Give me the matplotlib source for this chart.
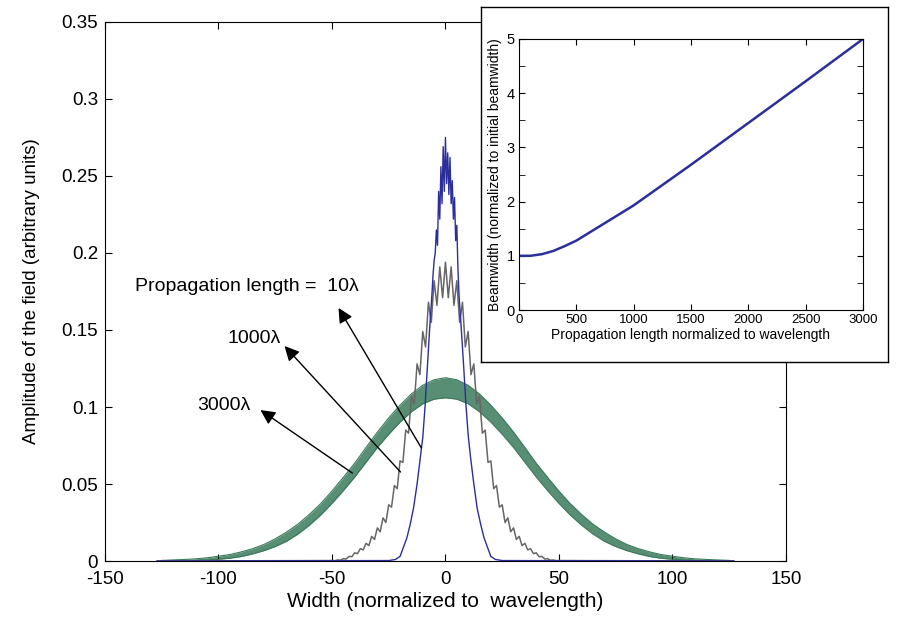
import numpy as np
import matplotlib
matplotlib.use("Agg")
from matplotlib import pyplot as plt

plt.rcParams['font.family'] = ['Liberation Sans', 'DejaVu Sans']
plt.rcParams['axes.unicode_minus'] = False

# --- main panel: field amplitude profiles ---
# 10 lambda (blue), read point by point
blue_x = [-127, -25, -22, -20, -18.5, -17, -15.5, -14, -12.5, -11, -10, -9, -8, -7, -6, -5.5, -5, -4.5, -4,
          -3.5, -3, -2.5, -2, -1.5, -1, -0.5, 0, 0.5, 1, 1.5, 2, 2.5, 3, 3.5, 4, 4.5, 5, 5.5, 6, 7, 8,
          9, 10, 11, 12.5, 14, 15.5, 17, 18.5, 20, 22, 25, 127]
blue_y = [0.0, 0.0003, 0.001, 0.003, 0.009, 0.015, 0.024, 0.035, 0.05, 0.068, 0.08, 0.1, 0.125, 0.15, 0.172,
          0.185, 0.195, 0.2, 0.215, 0.205, 0.24, 0.222, 0.256, 0.232, 0.269, 0.24, 0.275, 0.245, 0.265,
          0.238, 0.262, 0.232, 0.247, 0.222, 0.236, 0.208, 0.218, 0.19, 0.172, 0.15, 0.127, 0.102, 0.082,
          0.068, 0.05, 0.034, 0.024, 0.015, 0.009, 0.003, 0.001, 0.0003, 0.0]

# 1000 lambda (gray): oscillation peaks and troughs
gray_peak_x = np.arange(-50, 50.1, 2.5)
gray_peak_y = [0.0003, 0.0007, 0.0015, 0.003, 0.0053, 0.008, 0.0115, 0.016, 0.0215, 0.028, 0.0365, 0.049,
               0.065, 0.085, 0.107, 0.128, 0.149, 0.168, 0.182, 0.191, 0.194, 0.191, 0.182, 0.168, 0.149,
               0.128, 0.107, 0.085, 0.065, 0.049, 0.0365, 0.028, 0.0215, 0.016, 0.0115, 0.008, 0.0053,
               0.003, 0.0015, 0.0007, 0.0003]
gray_trough_y = [0.0002, 0.0005, 0.0013, 0.0028, 0.0048, 0.0072, 0.010, 0.014, 0.019, 0.025, 0.035, 0.047,
                 0.064, 0.083, 0.102, 0.121, 0.139, 0.155, 0.166, 0.171, 0.171, 0.166, 0.155, 0.139, 0.121,
                 0.102, 0.083, 0.064, 0.047, 0.035, 0.025, 0.019, 0.014, 0.010, 0.0072, 0.0048, 0.0028,
                 0.0013, 0.0005, 0.0002]

# 3000 lambda (green): upper / lower edge of the oscillating band
green_x = np.arange(-125, 125.1, 5)
green_upper = [0.0004, 0.0007, 0.0010, 0.0014, 0.0021, 0.0031, 0.0042, 0.0059, 0.0080, 0.0107, 0.0144, 0.0188,
               0.0239, 0.0302, 0.0372, 0.0454, 0.0543, 0.0635, 0.0737, 0.0837, 0.0929, 0.1012, 0.1085,
               0.1141, 0.1177, 0.1190, 0.1177, 0.1141, 0.1085, 0.1012, 0.0929, 0.0837, 0.0737, 0.0635,
               0.0543, 0.0454, 0.0372, 0.0302, 0.0239, 0.0188, 0.0144, 0.0107, 0.0080, 0.0059, 0.0042,
               0.0031, 0.0021, 0.0014, 0.0010, 0.0007, 0.0004]
green_lower = [0.0000, 0.0001, 0.0002, 0.0004, 0.0007, 0.0011, 0.0018, 0.0029, 0.0046, 0.0067, 0.0094, 0.0128,
               0.0175, 0.0232, 0.0298, 0.0374, 0.0457, 0.0545, 0.0641, 0.0737, 0.0823, 0.0902, 0.0969,
               0.1021, 0.1051, 0.1060, 0.1051, 0.1021, 0.0969, 0.0902, 0.0823, 0.0737, 0.0641, 0.0545,
               0.0457, 0.0374, 0.0298, 0.0232, 0.0175, 0.0128, 0.0094, 0.0067, 0.0046, 0.0029, 0.0018,
               0.0011, 0.0007, 0.0004, 0.0002, 0.0001, 0.0000]

# --- inset: beamwidth growth ---
prop_len = [0, 100, 200, 300, 400, 500, 1000, 1500, 2000, 2500, 3000]
beamwidth = [1.0, 1.0, 1.03, 1.09, 1.18, 1.28, 1.93, 2.68, 3.45, 4.22, 5.0]

c_blue = '#2a2f9c'
c_gray = '#666666'
c_green = '#3a7a5c'

fig = plt.figure(figsize=(9.01, 6.21), dpi=100)
ax = fig.add_axes([0.1165, 0.0966, 0.7558, 0.868])

# green band
ax.fill_between(green_x, green_lower, green_upper, color=c_green, alpha=0.85, lw=0)
ax.plot(green_x, green_upper, color=c_green, lw=0.8)
ax.plot(green_x, green_lower, color=c_green, lw=0.8)

# gray zigzag: peaks and troughs interleaved
gray_trough_x = gray_peak_x[:-1] + 1.25
gx = np.empty(len(gray_peak_x) + len(gray_trough_x))
gy = np.empty_like(gx)
gx[0::2], gy[0::2] = gray_peak_x, gray_peak_y
gx[1::2], gy[1::2] = gray_trough_x, gray_trough_y
ax.plot([-127] + list(gx) + [127], [0] + list(gy) + [0], color=c_gray, lw=1.1)

ax.plot(blue_x, blue_y, color=c_blue, lw=1.0)

ax.set_xlim(-150, 150)
ax.set_ylim(0, 0.35)
ax.set_xticks([-150, -100, -50, 0, 50, 100, 150])
ax.set_yticks([0, 0.05, 0.1, 0.15, 0.2, 0.25, 0.3, 0.35])
ax.set_yticklabels(['0', '0.05', '0.1', '0.15', '0.2', '0.25', '0.3', '0.35'])
ax.tick_params(direction='in', length=5, labelsize=13.5, top=True, right=True)
ax.tick_params(axis='x', pad=7)
ax.tick_params(axis='y', pad=5)
ax.set_xlabel('Width (normalized to  wavelength)', fontsize=15, labelpad=3)
ax.set_ylabel('Amplitude of the field (arbitrary units)', fontsize=13.5, labelpad=15)

arrow = dict(arrowstyle='-|>', mutation_scale=22, color='black', lw=1.0, shrinkA=0, shrinkB=0)
ax.annotate('', xy=(-47.1, 0.1643), xytext=(-10.6, 0.0734), arrowprops=arrow)
ax.annotate('', xy=(-70.9, 0.1396), xytext=(-19.8, 0.0578), arrowprops=arrow)
ax.annotate('', xy=(-81.5, 0.098), xytext=(-41.0, 0.0571), arrowprops=arrow)
ax.text(-136.6, 0.178, 'Propagation length =  10λ', fontsize=14, va='center', ha='left')
ax.text(-96, 0.1448, '1000λ', fontsize=14, va='center', ha='left')
ax.text(-109.3, 0.1013, '3000λ', fontsize=14, va='center', ha='left')

# inset frame
frame = fig.add_axes([0.5338, 0.4171, 0.4517, 0.5717])
frame.set_xticks([])
frame.set_yticks([])
frame.set_facecolor('white')
for s in frame.spines.values():
    s.set_linewidth(1.0)

ins = fig.add_axes([0.576, 0.5008, 0.3818, 0.4364])
ins.plot(prop_len, beamwidth, color=c_blue, lw=1.8)
ins.set_xlim(0, 3000)
ins.set_ylim(0, 5)
ins.set_xticks([0, 500, 1000, 1500, 2000, 2500, 3000])
ins.set_yticks([0, 1, 2, 3, 4, 5])
ins.set_yticks(np.arange(0.5, 5, 1), minor=True)
ins.tick_params(which='both', direction='in', top=True, right=True, pad=3)
ins.tick_params(axis='x', labelsize=9.5)
ins.tick_params(axis='y', labelsize=10.5)
ins.tick_params(which='major', length=4)
ins.tick_params(which='minor', length=4)
ins.set_xlabel('Propagation length normalized to wavelength', fontsize=10, labelpad=1)
ins.set_ylabel('Beamwidth (normalized to initial beamwidth)', fontsize=10, labelpad=3)

fig.savefig('out.png', dpi=100)
